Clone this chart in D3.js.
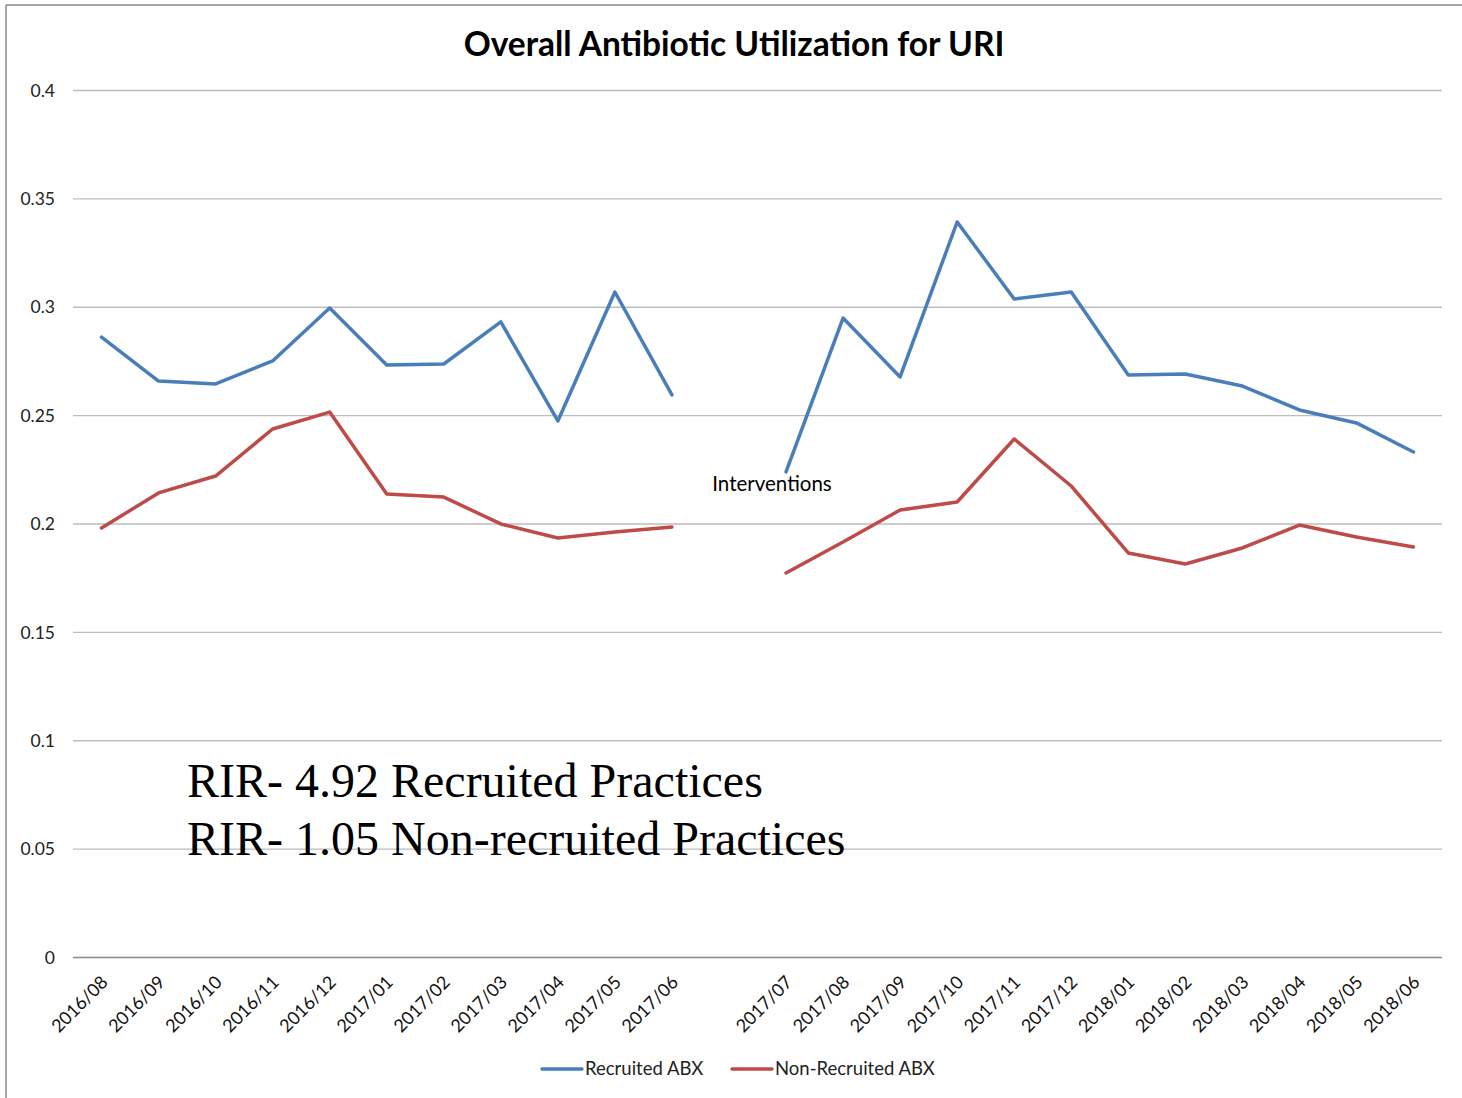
<!DOCTYPE html>
<html>
<head>
<meta charset="utf-8">
<script src="https://cdn.jsdelivr.net/npm/d3@7"></script>
<style>
  html, body { margin: 0; padding: 0; background: #fff; }
  svg { display: block; }
</style>
</head>
<body>
<svg id="chart" width="1462" height="1098"></svg>
<script>
const categories = ["2016/08","2016/09","2016/10","2016/11","2016/12","2017/01","2017/02","2017/03","2017/04","2017/05","2017/06","",
  "2017/07","2017/08","2017/09","2017/10","2017/11","2017/12","2018/01","2018/02","2018/03","2018/04","2018/05","2018/06"];
const recruited = [0.286,0.2657,0.2644,0.275,0.2994,0.2731,0.2736,0.293,0.2473,0.3068,0.2593,null,
  0.2238,0.2948,0.2676,0.3391,0.3036,0.3068,0.2685,0.269,0.2634,0.2524,0.2464,0.233];
const nonRecruited = [0.1979,0.2141,0.2219,0.2436,0.2514,0.2136,0.2122,0.1998,0.1933,0.1961,0.1984,null,
  0.1772,0.1915,0.2062,0.2099,0.239,0.2173,0.1864,0.1813,0.1887,0.1993,0.1938,0.1892];
const yTicks = [0,0.05,0.1,0.15,0.2,0.25,0.3,0.35,0.4];
const yTickLabels = ["0","0.05","0.1","0.15","0.2","0.25","0.3","0.35","0.4"];
const seriesNames = ["Recruited ABX","Non-Recruited ABX"];
const seriesColors = ["#4a7ebb","#be4b48"];
const titleText = "Overall Antibiotic Utilization for URI";
const annotationText = "Interventions";
const rirLines = ["RIR- 4.92 Recruited Practices","RIR- 1.05 Non-recruited Practices"];

const svg = d3.select("#chart");
const font = "Lato, 'Open Sans', sans-serif";

// outer border (top + left)
svg.append("line").attr("x1",6).attr("x2",1462).attr("y1",5).attr("y2",5)
  .attr("stroke","#888").attr("stroke-width",1.5);
svg.append("line").attr("x1",6).attr("x2",6).attr("y1",5).attr("y2",1098)
  .attr("stroke","#888").attr("stroke-width",1.5);

const x = d3.scaleBand().domain(categories.map((c,i)=>i)).range([73,1442]).padding(0);
const y = d3.scaleLinear().domain([0,0.4]).range([957,90]);
const cx = i => x(i) + x.bandwidth()/2;

// gridlines
const yAxis = d3.axisLeft(y).tickValues(yTicks).tickFormat((d,i)=>yTickLabels[i])
  .tickSize(-(1442-73)).tickPadding(18);
const gy = svg.append("g").attr("transform","translate(73,0)").call(yAxis);
gy.select(".domain").remove();
gy.selectAll(".tick line").attr("stroke",d => d===0 ? "#8a8a8a" : "#bdbdbd").attr("stroke-width",1.3);
gy.selectAll(".tick text").attr("font-family",font).attr("font-size",17.5).attr("fill","#222").attr("dy","0.35em");

// x axis labels
const xAxis = d3.axisBottom(x).tickFormat(i => categories[i]).tickSize(0).tickPadding(0);
const gx = svg.append("g").attr("transform","translate(0,957)").call(xAxis);
gx.select(".domain").remove();
gx.selectAll(".tick text")
  .attr("font-family",font).attr("font-size",18).attr("fill","#111")
  .attr("text-anchor","end")
  .attr("transform","translate(3,22) rotate(-45)")
  .attr("dy","0.35em").attr("y",0).attr("x",0);

// lines
const line = d3.line().defined(d => d[1] != null).x(d => cx(d[0])).y(d => y(d[1]));
[recruited, nonRecruited].forEach((s, k) => {
  svg.append("path").datum(s.map((v,i)=>[i,v]))
    .attr("d", line).attr("fill","none")
    .attr("stroke", seriesColors[k]).attr("stroke-width",3.5)
    .attr("stroke-linejoin","round").attr("stroke-linecap","round");
});

// title
svg.append("text").attr("x",734).attr("y",56).attr("text-anchor","middle")
  .attr("font-family",font).attr("font-weight","bold").attr("font-size",33.5).attr("fill","#000")
  .text(titleText);

// annotation
svg.append("text").attr("x",772).attr("y",491).attr("text-anchor","middle")
  .attr("font-family",font).attr("font-size",20.5).attr("fill","#000").text(annotationText);

// RIR text
rirLines.forEach((t,i) => {
  svg.append("text").attr("x",187).attr("y",797 + i*58)
    .attr("font-family","'Liberation Serif', 'Times New Roman', serif").attr("font-size",48).attr("fill","#000")
    .text(t);
});

// legend
const legendX = [542, 732];
seriesNames.forEach((n,k) => {
  svg.append("line").attr("x1",legendX[k]).attr("x2",legendX[k]+40).attr("y1",1069).attr("y2",1069)
    .attr("stroke",seriesColors[k]).attr("stroke-width",3.5).attr("stroke-linecap","round");
  svg.append("text").attr("x",legendX[k]+43).attr("y",1075)
    .attr("font-family",font).attr("font-size",18.5).attr("fill","#222").text(n);
});
</script>
</body>
</html>
